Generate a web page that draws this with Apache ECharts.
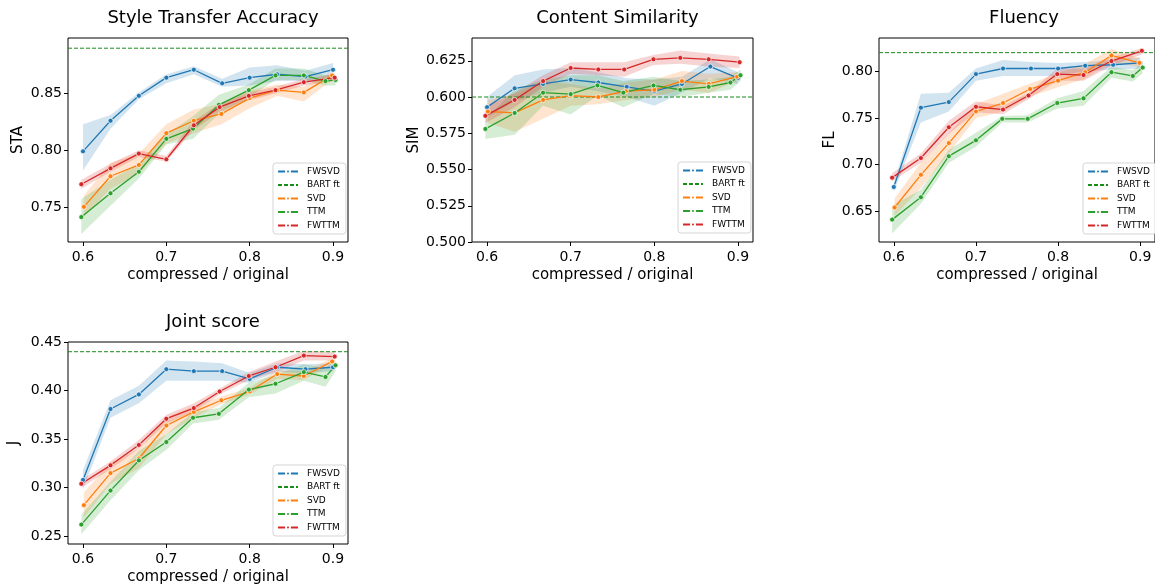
<!DOCTYPE html>
<html>
<head>
<meta charset="utf-8">
<script src="https://cdn.jsdelivr.net/npm/echarts@6/dist/echarts.min.js"></script>
<style>
  html, body { margin: 0; padding: 0; background: #fff; }
  #chart { width: 1155px; height: 586px; }
</style>
</head>
<body>
<div id="chart"></div>
<script>
// x positions (compressed / original) per method
const xFwsvd = [0.6, 0.633, 0.667, 0.7, 0.733, 0.767, 0.8, 0.833, 0.867, 0.9];
const xSvd = [0.601, 0.633, 0.667, 0.7, 0.733, 0.766, 0.8, 0.833, 0.865, 0.899];
const xTtm = [0.598, 0.633, 0.667, 0.7, 0.732, 0.763, 0.799, 0.831, 0.865, 0.891, 0.903];
const xFwttm = [0.598, 0.633, 0.667, 0.7, 0.733, 0.764, 0.799, 0.831, 0.865, 0.902];

// Style Transfer Accuracy
const staFwsvd = [0.799, 0.826, 0.848, 0.864, 0.871, 0.859, 0.864, 0.867, 0.865, 0.871];
const staFwsvdLo = [0.782, 0.819, 0.845, 0.859, 0.867, 0.856, 0.857, 0.861, 0.861, 0.866];
const staFwsvdHi = [0.823, 0.831, 0.851, 0.867, 0.874, 0.863, 0.873, 0.875, 0.870, 0.877];
const staSvd = [0.750, 0.777, 0.787, 0.815, 0.826, 0.832, 0.846, 0.853, 0.851, 0.866];
const staSvdLo = [0.741, 0.766, 0.779, 0.806, 0.815, 0.823, 0.837, 0.848, 0.843, 0.862];
const staSvdHi = [0.760, 0.789, 0.797, 0.823, 0.836, 0.841, 0.853, 0.858, 0.856, 0.869];
const staTtm = [0.741, 0.762, 0.781, 0.810, 0.819, 0.840, 0.853, 0.866, 0.866, 0.861, 0.862];
const staTtmLo = [0.726, 0.751, 0.775, 0.805, 0.810, 0.832, 0.847, 0.862, 0.862, 0.857, 0.857];
const staTtmHi = [0.757, 0.774, 0.788, 0.814, 0.830, 0.849, 0.858, 0.872, 0.872, 0.866, 0.867];
const staFwttm = [0.770, 0.784, 0.797, 0.792, 0.822, 0.838, 0.848, 0.853, 0.860, 0.864];
const staFwttmLo = [0.766, 0.781, 0.794, 0.790, 0.818, 0.834, 0.844, 0.850, 0.857, 0.861];
const staFwttmHi = [0.774, 0.788, 0.800, 0.795, 0.826, 0.841, 0.851, 0.856, 0.863, 0.867];

// Content Similarity
const simFwsvd = [0.593, 0.606, 0.609, 0.612, 0.610, 0.607, 0.604, 0.609, 0.621, 0.613];
const simFwsvdLo = [0.586, 0.597, 0.603, 0.607, 0.604, 0.600, 0.594, 0.603, 0.613, 0.609];
const simFwsvdHi = [0.600, 0.615, 0.619, 0.620, 0.617, 0.613, 0.612, 0.614, 0.626, 0.617];
const simSvd = [0.590, 0.589, 0.598, 0.601, 0.600, 0.604, 0.605, 0.611, 0.609, 0.614];
const simSvdLo = [0.582, 0.576, 0.585, 0.594, 0.595, 0.598, 0.600, 0.605, 0.603, 0.611];
const simSvdHi = [0.598, 0.602, 0.611, 0.609, 0.606, 0.610, 0.612, 0.618, 0.616, 0.617];
const simTtm = [0.578, 0.589, 0.603, 0.602, 0.608, 0.603, 0.608, 0.605, 0.607, 0.610, 0.615];
const simTtmLo = [0.571, 0.574, 0.594, 0.588, 0.601, 0.593, 0.602, 0.600, 0.603, 0.605, 0.611];
const simTtmHi = [0.585, 0.605, 0.612, 0.615, 0.615, 0.611, 0.614, 0.611, 0.612, 0.614, 0.619];
const simFwttm = [0.587, 0.598, 0.611, 0.620, 0.619, 0.619, 0.626, 0.627, 0.626, 0.624];
const simFwttmLo = [0.582, 0.593, 0.607, 0.616, 0.615, 0.614, 0.622, 0.623, 0.621, 0.620];
const simFwttmHi = [0.593, 0.603, 0.615, 0.624, 0.624, 0.624, 0.629, 0.632, 0.630, 0.628];

// Fluency
const flFwsvd = [0.676, 0.761, 0.767, 0.797, 0.803, 0.803, 0.803, 0.806, 0.807, 0.809];
const flFwsvdLo = [0.671, 0.745, 0.757, 0.790, 0.795, 0.795, 0.795, 0.800, 0.802, 0.803];
const flFwsvdHi = [0.680, 0.776, 0.777, 0.803, 0.812, 0.810, 0.809, 0.810, 0.812, 0.815];
const flSvd = [0.654, 0.689, 0.723, 0.757, 0.766, 0.781, 0.790, 0.799, 0.817, 0.809];
const flSvdLo = [0.645, 0.675, 0.712, 0.750, 0.757, 0.773, 0.783, 0.792, 0.810, 0.805];
const flSvdHi = [0.664, 0.702, 0.734, 0.765, 0.776, 0.787, 0.798, 0.808, 0.824, 0.814];
const flTtm = [0.641, 0.665, 0.709, 0.726, 0.749, 0.749, 0.766, 0.771, 0.799, 0.795, 0.804];
const flTtmLo = [0.626, 0.658, 0.702, 0.719, 0.745, 0.745, 0.760, 0.763, 0.793, 0.789, 0.798];
const flTtmHi = [0.656, 0.673, 0.716, 0.734, 0.752, 0.753, 0.771, 0.779, 0.805, 0.801, 0.810];
const flFwttm = [0.686, 0.707, 0.740, 0.762, 0.759, 0.774, 0.797, 0.796, 0.811, 0.822];
const flFwttmLo = [0.682, 0.702, 0.733, 0.756, 0.754, 0.770, 0.790, 0.790, 0.806, 0.818];
const flFwttmHi = [0.691, 0.712, 0.747, 0.768, 0.763, 0.777, 0.803, 0.803, 0.815, 0.825];

// Joint score
const jFwsvd = [0.308, 0.381, 0.396, 0.422, 0.420, 0.420, 0.412, 0.424, 0.422, 0.424];
const jFwsvdLo = [0.298, 0.372, 0.387, 0.410, 0.410, 0.410, 0.408, 0.419, 0.418, 0.420];
const jFwsvdHi = [0.318, 0.390, 0.405, 0.431, 0.430, 0.428, 0.418, 0.428, 0.427, 0.428];
const jSvd = [0.282, 0.315, 0.330, 0.364, 0.378, 0.390, 0.399, 0.417, 0.415, 0.430];
const jSvdLo = [0.269, 0.304, 0.320, 0.355, 0.372, 0.386, 0.396, 0.412, 0.411, 0.427];
const jSvdHi = [0.295, 0.326, 0.340, 0.372, 0.384, 0.394, 0.403, 0.421, 0.420, 0.433];
const jTtm = [0.262, 0.297, 0.328, 0.347, 0.372, 0.376, 0.401, 0.407, 0.419, 0.414, 0.426];
const jTtmLo = [0.252, 0.287, 0.318, 0.339, 0.366, 0.370, 0.393, 0.397, 0.410, 0.404, 0.420];
const jTtmHi = [0.272, 0.306, 0.338, 0.355, 0.378, 0.382, 0.408, 0.416, 0.427, 0.423, 0.432];
const jFwttm = [0.304, 0.323, 0.344, 0.371, 0.382, 0.399, 0.415, 0.424, 0.436, 0.435];
const jFwttmLo = [0.300, 0.319, 0.340, 0.366, 0.378, 0.396, 0.411, 0.419, 0.431, 0.431];
const jFwttmHi = [0.308, 0.327, 0.349, 0.375, 0.387, 0.402, 0.419, 0.430, 0.441, 0.440];

// BART ft reference levels
const bartFt = [0.89, 0.60, 0.82, 0.44];

// x axis range and tick labels
const xMin = 0.582, xMax = 0.918;
const xTicks = [0.6, 0.7, 0.8, 0.9];
const staTicks = [0.75, 0.80, 0.85];
const simTicks = [0.500, 0.525, 0.550, 0.575, 0.600, 0.625];
const flTicks = [0.65, 0.70, 0.75, 0.80];
const jTicks = [0.25, 0.30, 0.35, 0.40, 0.45];

const colors = { FWSVD: '#1f77b4', SVD: '#ff7f0e', TTM: '#2ca02c', FWTTM: '#d62728' };
const bartColor = '#1a8c1a';
const font = 'DejaVu Sans';

const panels = [
  {
    title: 'Style Transfer Accuracy', yName: 'STA', nameGap: 42,
    grid: { left: 68, top: 38, width: 280, height: 204 },
    yMin: 0.719, yMax: 0.899, ticks: staTicks, dec: 2, legend: { left: 273, top: 163 },
    lines: [
      ['FWSVD', xFwsvd, staFwsvd, staFwsvdLo, staFwsvdHi],
      ['SVD', xSvd, staSvd, staSvdLo, staSvdHi],
      ['TTM', xTtm, staTtm, staTtmLo, staTtmHi],
      ['FWTTM', xFwttm, staFwttm, staFwttmLo, staFwttmHi]
    ]
  },
  {
    title: 'Content Similarity', yName: 'SIM', nameGap: 48,
    grid: { left: 472, top: 38, width: 281, height: 204 },
    yMin: 0.5, yMax: 0.6407, ticks: simTicks, dec: 3, legend: { left: 678, top: 162 },
    lines: [
      ['FWSVD', xFwsvd, simFwsvd, simFwsvdLo, simFwsvdHi],
      ['SVD', xSvd, simSvd, simSvdLo, simSvdHi],
      ['TTM', xTtm, simTtm, simTtmLo, simTtmHi],
      ['FWTTM', xFwttm, simFwttm, simFwttmLo, simFwttmHi]
    ]
  },
  {
    title: 'Fluency', yName: 'FL', nameGap: 40,
    grid: { left: 879, top: 38, width: 280, height: 204 },
    yMin: 0.617, yMax: 0.8357, ticks: flTicks, dec: 2, legend: { left: 1083, top: 163 },
    lines: [
      ['FWSVD', xFwsvd, flFwsvd, flFwsvdLo, flFwsvdHi],
      ['SVD', xSvd, flSvd, flSvdLo, flSvdHi],
      ['TTM', xTtm, flTtm, flTtmLo, flTtmHi],
      ['FWTTM', xFwttm, flFwttm, flFwttmLo, flFwttmHi]
    ]
  },
  {
    title: 'Joint score', yName: 'J', nameGap: 46,
    grid: { left: 68, top: 342, width: 280, height: 203 },
    yMin: 0.242, yMax: 0.45, ticks: jTicks, dec: 2, legend: { left: 273, top: 465 },
    lines: [
      ['FWSVD', xFwsvd, jFwsvd, jFwsvdLo, jFwsvdHi],
      ['SVD', xSvd, jSvd, jSvdLo, jSvdHi],
      ['TTM', xTtm, jTtm, jTtmLo, jTtmHi],
      ['FWTTM', xFwttm, jFwttm, jFwttmLo, jFwttmHi]
    ]
  }
];

const zip = (xs, ys) => xs.map((x, i) => [x, ys[i]]);

// shaded confidence band as one polygon through the axis scales
function bandSeries(i, name, xs, lo, hi) {
  const rows = xs.map((x, k) => [x, lo[k], hi[k]]);
  return {
    name: name + ' band', type: 'custom', xAxisIndex: i, yAxisIndex: i,
    data: rows, encode: { x: 0, y: [1, 2] }, silent: true, clip: true, z: 1,
    renderItem: function (params, api) {
      if (params.dataIndex !== 0) return;
      const upper = rows.map(r => api.coord([r[0], r[2]]));
      const lower = rows.map(r => api.coord([r[0], r[1]])).reverse();
      return {
        type: 'polygon',
        shape: { points: upper.concat(lower) },
        style: { fill: colors[name], opacity: 0.2 }
      };
    }
  };
}

const titles = [], grids = [], xAxes = [], yAxes = [], legends = [], series = [];

panels.forEach((p, i) => {
  grids.push(Object.assign({ show: true, borderColor: '#000', borderWidth: 1, backgroundColor: 'transparent' }, p.grid));
  titles.push({
    text: p.title,
    left: p.grid.left + p.grid.width / 2,
    top: p.grid.top - 34,
    textAlign: 'center',
    textStyle: { fontFamily: font, fontSize: 18, fontWeight: 'normal', color: '#000' }
  });
  xAxes.push({
    type: 'value', gridIndex: i, min: xMin, max: xMax,
    name: 'compressed / original', nameLocation: 'middle', nameGap: 26,
    nameTextStyle: { fontFamily: font, fontSize: 15, color: '#000' },
    axisLine: { show: false },
    splitLine: { show: false },
    axisTick: { show: true, length: 4, customValues: xTicks, lineStyle: { color: '#000' } },
    axisLabel: { customValues: xTicks, fontFamily: font, fontSize: 14, color: '#000', margin: 8, formatter: v => v.toFixed(1) }
  });
  yAxes.push({
    type: 'value', gridIndex: i, min: p.yMin, max: p.yMax,
    name: p.yName, nameLocation: 'middle', nameGap: p.nameGap, nameRotate: 90,
    nameTextStyle: { fontFamily: font, fontSize: 15, color: '#000' },
    axisLine: { show: false },
    splitLine: { show: false },
    axisTick: { show: true, length: 4, customValues: p.ticks, lineStyle: { color: '#000' } },
    axisLabel: { customValues: p.ticks, fontFamily: font, fontSize: 14, color: '#000', margin: 6, formatter: v => v.toFixed(p.dec) }
  });
  legends.push({
    data: ['FWSVD', { name: 'BART ft', itemStyle: { opacity: 0 } }, 'SVD', 'TTM', 'FWTTM'],
    orient: 'vertical', left: p.legend.left, top: p.legend.top,
    itemWidth: 20, itemHeight: 5, itemGap: 4.5,
    padding: [4, 6, 4, 4],
    borderColor: '#d5d5d5', borderWidth: 1, borderRadius: 3,
    backgroundColor: 'rgba(255,255,255,0.85)',
    textStyle: { fontFamily: font, fontSize: 9, color: '#000', padding: [0, 0, 0, 4] },
    selectedMode: false
  });

  // confidence bands first
  p.lines.forEach(([name, xs, m, lo, hi]) => {
    series.push(bandSeries(i, name, xs, lo, hi));
  });

  // BART ft reference line across the axis range
  series.push({
    name: 'BART ft', type: 'line', xAxisIndex: i, yAxisIndex: i,
    data: [[xMin, bartFt[i]], [xMax, bartFt[i]]],
    symbol: 'none', showSymbol: false, silent: true,
    itemStyle: { color: bartColor },
    lineStyle: { color: bartColor, type: [4, 2], width: 1 },
    z: 2
  });

  p.lines.forEach(([name, xs, m]) => {
    series.push({
      name: name, type: 'line', xAxisIndex: i, yAxisIndex: i,
      data: zip(xs, m), symbol: 'circle', symbolSize: 5, showSymbol: true,
      lineStyle: { color: colors[name], width: 1.3 },
      itemStyle: { color: colors[name], borderColor: '#fff', borderWidth: 0.7 },
      z: 3
    });
  });
});

const myChart = echarts.init(document.getElementById('chart'), null, { renderer: 'canvas' });
myChart.setOption({
  backgroundColor: '#fff',
  animation: false,
  title: titles,
  grid: grids,
  xAxis: xAxes,
  yAxis: yAxes,
  legend: legends,
  series: series
});
</script>
</body>
</html>
